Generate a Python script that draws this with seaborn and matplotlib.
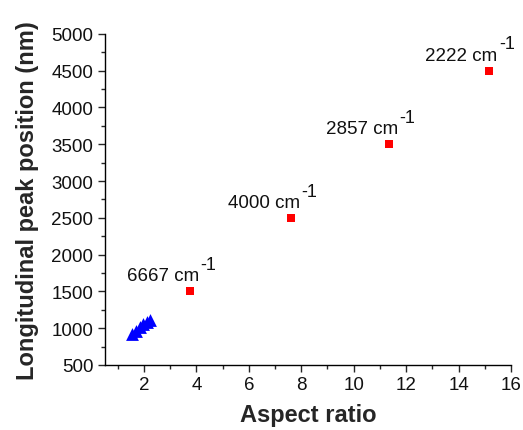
import matplotlib
matplotlib.use("Agg")
import matplotlib.pyplot as plt
import seaborn as sns
import pandas as pd
from matplotlib.ticker import MultipleLocator

sns.set_style("ticks")
plt.rcParams['font.family'] = ['Liberation Sans', 'DejaVu Sans']

blue_x = [1.55, 1.7, 1.85, 1.97, 2.1, 2.25]
blue_y = [925, 965, 1010, 1050, 1085, 1110]
red_x = [3.75, 7.6, 11.35, 15.15]
red_y = [1500, 2500, 3500, 4500]
red_labels = ["6667", "4000", "2857", "2222"]

fig = plt.figure(figsize=(5.23, 4.31), dpi=100)
ax = fig.add_axes([0.2, 0.151, 0.777, 0.768])

sns.scatterplot(x=blue_x, y=blue_y, marker="^", color="#0000ff", s=85,
                edgecolor="#0000ff", linewidth=0, ax=ax)
sns.scatterplot(x=red_x, y=red_y, marker="s", color="#ff0000", s=40,
                edgecolor="#ff0000", linewidth=0, ax=ax)

for x, y, lab in zip(red_x, red_y, red_labels):
    ax.annotate(lab + " cm", (x, y), xytext=(6.5, 8),
                textcoords="offset points", ha="right", va="baseline",
                fontsize=13.5, color="#111111")
    ax.annotate("-1", (x, y), xytext=(7.3, 16),
                textcoords="offset points", ha="left", va="baseline",
                fontsize=13, color="#111111")

ax.set_xlim(0.5, 16)
ax.set_ylim(500, 5000)
ax.xaxis.set_major_locator(MultipleLocator(2))
ax.xaxis.set_minor_locator(MultipleLocator(1))
ax.yaxis.set_major_locator(MultipleLocator(500))
ax.yaxis.set_minor_locator(MultipleLocator(250))
ax.set_xticks(range(2, 17, 2))
ax.tick_params(axis="both", which="major", labelsize=13.5, length=5, width=1,
               direction="out", pad=3, labelcolor="#111111")
ax.tick_params(axis="both", which="minor", length=3, width=1, direction="out")
for s in ["top", "right"]:
    ax.spines[s].set_visible(False)
for s in ["left", "bottom"]:
    ax.spines[s].set_linewidth(1)
    ax.spines[s].set_color("black")
ax.set_xlabel("Aspect ratio", fontsize=17, fontweight="bold", labelpad=7)
ax.set_ylabel("Longitudinal peak position (nm)", fontsize=17, fontweight="bold", labelpad=9)

fig.savefig("out.png", dpi=100)
